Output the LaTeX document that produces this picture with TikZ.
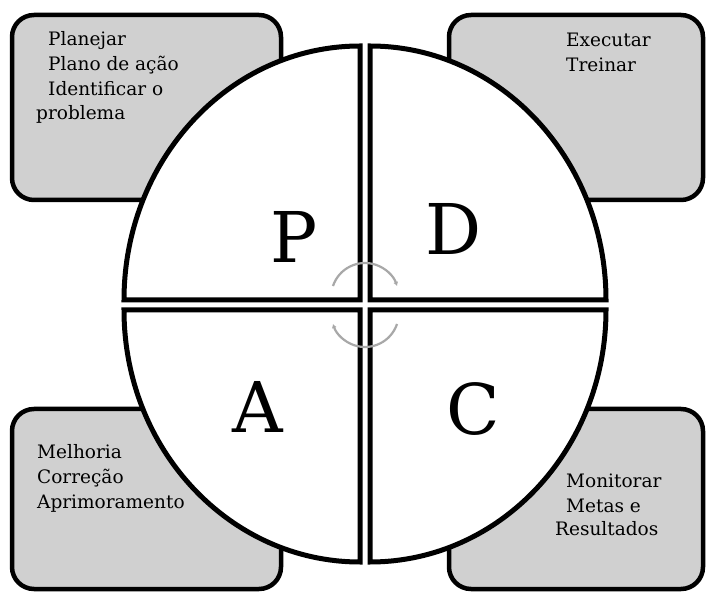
\documentclass[tikz,border=0pt]{standalone}
\usepackage{fontspec}
\setmainfont{DejaVu Serif}
\usetikzlibrary{arrows.meta}
\definecolor{boxgray}{RGB}{208,208,208}
\definecolor{arrgray}{RGB}{168,168,168}
\tikzset{
  cornerbox/.style={draw=black, line width=4.5pt, fill=boxgray, rounded corners=22pt},
  quad/.style={draw=black, line width=5pt, fill=white, line join=miter},
  boxtext/.style={anchor=base west, inner sep=0pt, font=\fontsize{18.5}{25}\selectfont},
  bigletter/.style={anchor=base, inner sep=0pt, font=\fontsize{70}{80}\selectfont},
  cyclearc/.style={draw=arrgray, line width=2.2pt, -{Latex[length=4pt,width=5pt]}}
}
\begin{document}
\begin{tikzpicture}[x=1pt, y=-1pt]
\useasboundingbox (0,0) rectangle (707,593);
% corner boxes
\draw[cornerbox] (12,15) rectangle (281,200);
\draw[cornerbox] (449,15) rectangle (703,200);
\draw[cornerbox] (12,409) rectangle (281,589);
\draw[cornerbox] (449,409) rectangle (703,589);
% box texts
\node[boxtext] (tl1) at (48,46) {Planejar};
\node[boxtext] (tl2) at (48,71) {Plano de ação};
\node[boxtext] (tl3) at (48,96) {Identificar o};
\node[boxtext] (tl4) at (36,120) {problema};
\node[boxtext] (tr1) at (566,47) {Executar};
\node[boxtext] (tr2) at (566,72) {Treinar};
\node[boxtext] (bl1) at (37,458) {Melhoria};
\node[boxtext] (bl2) at (37,483) {Correção};
\node[boxtext] (bl3) at (37,508) {Aprimoramento};
\node[boxtext] (br1) at (566,487) {Monitorar};
\node[boxtext] (br2) at (566,512) {Metas e};
\node[boxtext] (br3) at (555,535) {Resultados};
% quadrants
\draw[quad] (360,300) -- (124,300) arc[start angle=180, end angle=270, x radius=236, y radius=254] -- cycle;
\draw[quad] (370,300) -- (370,46) arc[start angle=270, end angle=360, x radius=236, y radius=254] -- cycle;
\draw[quad] (360,310) -- (360,562) arc[start angle=90, end angle=180, x radius=236, y radius=252] -- cycle;
\draw[quad] (370,310) -- (606,310) arc[start angle=0, end angle=90, x radius=236, y radius=252] -- cycle;
% letters
\node[bigletter] (P) at (294,263) {P};
\node[bigletter] (D) at (454,255) {D};
\node[bigletter] (A) at (258,433) {A};
\node[bigletter] (C) at (473,435) {C};
% cycle arrows
\coordinate (cu) at (365,296.8);
\coordinate (cd) at (365,313.2);
\draw[cyclearc] ([shift={(198.6:33.8)}]cu) arc[start angle=198.6, end angle=341.4, radius=33.8];
\draw[cyclearc] ([shift={(18.6:33.8)}]cd) arc[start angle=18.6, end angle=161.4, radius=33.8];
\end{tikzpicture}
\end{document}
